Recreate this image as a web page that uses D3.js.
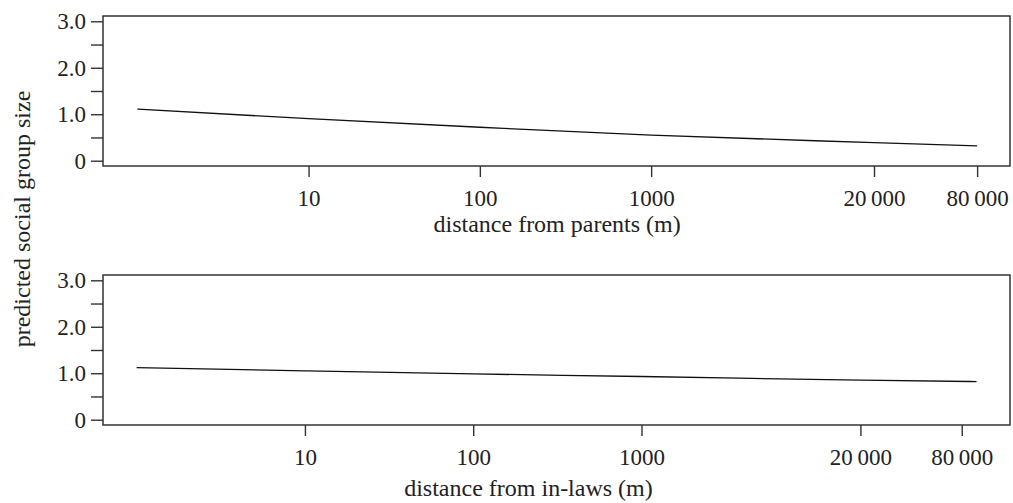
<!DOCTYPE html>
<html lang="en">
<head>
  <meta charset="UTF-8">
  <title>Predicted social group size vs distance</title>
  <script src="https://d3js.org/d3.v7.min.js"></script>
  <style>
    body { margin: 0; background: #fff; }
    text { font-family: "Liberation Serif", "DejaVu Serif", serif; fill: #222; }
    .axis path, .axis line { stroke: #333; stroke-width: 1.4; }
  </style>
</head>
<body>
<script>
  // distances (m) where the curves were read
  const distParents = [1, 10, 100, 1000, 20000, 80000];
  const sizeParents = [1.11, 0.905, 0.72, 0.55, 0.39, 0.32];

  const distInLaws = [1, 10, 100, 1000, 20000, 98000];
  const sizeInLaws = [1.12, 1.05, 0.985, 0.93, 0.85, 0.82];

  const xTicks = [10, 100, 1000, 20000, 80000];
  const xTickLabels = ['10', '100', '1000', '20\u2009000', '80\u2009000'];
  const yMajor = [0, 1, 2, 3];
  const yMajorLabels = ['0', '1.0', '2.0', '3.0'];
  const yMinor = [0.5, 1.5, 2.5];

  const W = 1013, H = 503;
  const svg = d3.select('body').append('svg')
    .attr('width', W).attr('height', H);

  const plotLeft = 103, plotRight = 1010, plotH = 150;

  const panels = [
    { top: 16, xs: distParents, ys: sizeParents, xMax: Math.pow(10, 5.095),
      title: 'distance from parents (m)', titleDx: -94, titleDy: 66 },
    { top: 275, xs: distInLaws, ys: sizeInLaws, xMax: Math.pow(10, 5.19),
      title: 'distance from in-laws (m)', titleDx: -113, titleDy: 71 }
  ];

  panels.forEach(p => {
    const g = svg.append('g').attr('transform', `translate(${plotLeft},${p.top})`);
    const w = plotRight - plotLeft;

    const x = d3.scaleLog()
      .domain([Math.pow(10, -0.2), p.xMax])
      .range([0, w]);
    const y = d3.scaleLinear()
      .domain([-0.114, 3.114])
      .range([plotH, 0]);

    // frame
    g.append('rect')
      .attr('width', w).attr('height', plotH)
      .attr('fill', 'none').attr('stroke', '#333').attr('stroke-width', 1.5);

    // y axis ticks
    const yAxis = d3.axisLeft(y)
      .tickValues(yMajor.concat(yMinor))
      .tickSize(12)
      .tickPadding(5)
      .tickFormat(d => {
        const i = yMajor.indexOf(d);
        return i >= 0 ? yMajorLabels[i] : '';
      });
    const ya = g.append('g').attr('class', 'axis').call(yAxis);
    ya.select('.domain').remove();
    ya.selectAll('text').style('font-size', '23px');

    // x axis ticks
    const xAxis = d3.axisBottom(x)
      .tickValues(xTicks)
      .tickSize(11)
      .tickPadding(12.5)
      .tickFormat((d, i) => xTickLabels[i]);
    const xa = g.append('g').attr('class', 'axis')
      .attr('transform', `translate(0,${plotH})`).call(xAxis);
    xa.select('.domain').remove();
    xa.selectAll('text').style('font-size', '23px');

    // curve
    const pts = p.xs.map((d, i) => [d, p.ys[i]]);
    g.append('path')
      .datum(pts)
      .attr('fill', 'none')
      .attr('stroke', '#111')
      .attr('stroke-width', 1.3)
      .attr('d', d3.line().x(d => x(d[0])).y(d => y(d[1])).curve(d3.curveMonotoneX));

    // x title
    g.append('text')
      .attr('x', x(1000) + p.titleDx)
      .attr('y', plotH + p.titleDy)
      .attr('text-anchor', 'middle')
      .style('font-size', '24px')
      .text(p.title);
  });

  svg.append('text')
    .attr('transform', 'translate(30,219) rotate(-90)')
    .attr('text-anchor', 'middle')
    .style('font-size', '24px')
    .text('predicted social group size');
</script>
</body>
</html>
